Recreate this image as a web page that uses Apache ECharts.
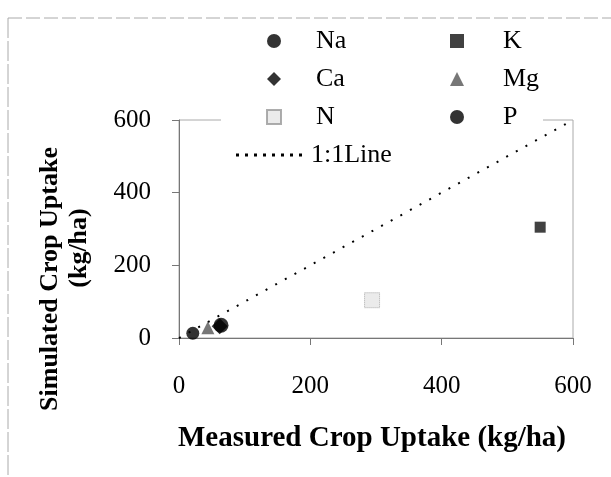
<!DOCTYPE html>
<html>
<head>
<meta charset="utf-8">
<script src="https://cdn.jsdelivr.net/npm/echarts@6/dist/echarts.min.js"></script>
<style>html,body{margin:0;padding:0;background:#fff}#c{width:611px;height:477px}</style>
</head>
<body>
<div id="c"></div>
<script>
var xTicks = [0, 200, 400, 600];
var yTicks = [0, 200, 400, 600];
var naData = [[21, 13]];
var kData = [[550, 305]];
var caData = [[62, 32]];
var mgData = [[44, 28]];
var nData = [[294, 104]];
var pData = [[64, 35]];
var oneToOne = [[0, 0], [600, 600]];

var serif = 'Liberation Serif, Times New Roman, serif';
var chart = echarts.init(document.getElementById('c'));
function sc(name, data, symbol, size, itemStyle) {
  return { name: name, type: 'scatter', data: data, symbol: symbol, symbolSize: size, itemStyle: itemStyle, z: 5 };
}
var legendText = { fontFamily: serif, fontSize: 26, color: '#000' };
var dotPath = 'path://';
for (var i = 0; i < 8; i++) { dotPath += 'M' + (i * 9) + ',0h3v3h-3z'; }
var option = {
  animation: false,
  backgroundColor: '#fff',
  grid: { left: 179, right: 38, top: 120, bottom: 139, show: true, borderColor: '#aaa', borderWidth: 1 },
  xAxis: {
    type: 'value', min: 0, max: 600, interval: 200,
    axisLine: { lineStyle: { color: '#777' } },
    axisTick: { show: true, length: 7, lineStyle: { color: '#777' } },
    splitLine: { show: false },
    axisLabel: { color: '#000', fontFamily: serif, fontSize: 25, margin: 36 }
  },
  yAxis: {
    type: 'value', min: 0, max: 600, interval: 200,
    axisLine: { show: true, lineStyle: { color: '#777' } },
    axisTick: { show: true, length: 7, lineStyle: { color: '#777' } },
    splitLine: { show: false },
    axisLabel: { color: '#000', fontFamily: serif, fontSize: 25, margin: 28 }
  },
  legend: [
    { orient: 'vertical', left: 261, top: 23, itemGap: 12, itemWidth: 14, itemHeight: 14,
      data: ['Na', { name: 'Ca', itemStyle: {} }, 'N'], textStyle: Object.assign({ padding: [0, 0, 0, 30] }, legendText) },
    { orient: 'vertical', left: 445, top: 23, itemGap: 12, itemWidth: 14, itemHeight: 14,
      data: ['K', 'Mg', 'P'], textStyle: Object.assign({ padding: [0, 0, 0, 34] }, legendText) },
    { orient: 'vertical', left: 231, top: 137, itemWidth: 66, itemHeight: 3,
      data: [{ name: '1:1Line', icon: dotPath, itemStyle: { color: '#000' } }], textStyle: Object.assign({ padding: [0, 0, 0, 4] }, legendText) }
  ],
  graphic: [
    { type: 'rect', shape: { x: 221, y: 100, width: 322, height: 40 }, style: { fill: '#fff' }, z: 1 },
    { type: 'line', shape: { x1: 8, y1: 18, x2: 611, y2: 18 }, style: { stroke: '#aaa', lineWidth: 1, lineDash: [14, 4] } },
    { type: 'line', shape: { x1: 8, y1: 18, x2: 8, y2: 477 }, style: { stroke: '#aaa', lineWidth: 1, lineDash: [20, 3] } },
    { type: 'text', x: 372, y: 439, style: { text: 'Measured Crop Uptake (kg/ha)', font: 'bold 29px ' + serif, fill: '#000', textAlign: 'center', textVerticalAlign: 'middle' } },
    { type: 'text', x: 50, y: 279, rotation: Math.PI / 2, style: { text: 'Simulated Crop Uptake', font: 'bold 26px ' + serif, fill: '#000', textAlign: 'center', textVerticalAlign: 'middle' } },
    { type: 'text', x: 79, y: 248, rotation: Math.PI / 2, style: { text: '(kg/ha)', font: 'bold 26px ' + serif, fill: '#000', textAlign: 'center', textVerticalAlign: 'middle' } }
  ],
  series: [
    sc('Na', naData, 'circle', 13, { color: '#000' }),
    sc('Ca', caData, 'diamond', 16, { color: '#000' }),
    sc('N', nData, 'rect', 15, { color: '#e6e6e6', borderColor: '#999', borderWidth: 1, borderType: 'dotted' }),
    sc('K', kData, 'rect', 11, { color: '#111' }),
    sc('Mg', mgData, 'triangle', 13, { color: '#555' }),
    sc('P', pData, 'circle', 15, { color: '#000' }),
    { name: '1:1Line', type: 'line', data: oneToOne, symbol: 'none', z: 3,
      lineStyle: { color: '#000', width: 2, type: [2, 9] }, itemStyle: { color: '#000' } }
  ]
};
chart.setOption(option);
</script>
</body>
</html>
